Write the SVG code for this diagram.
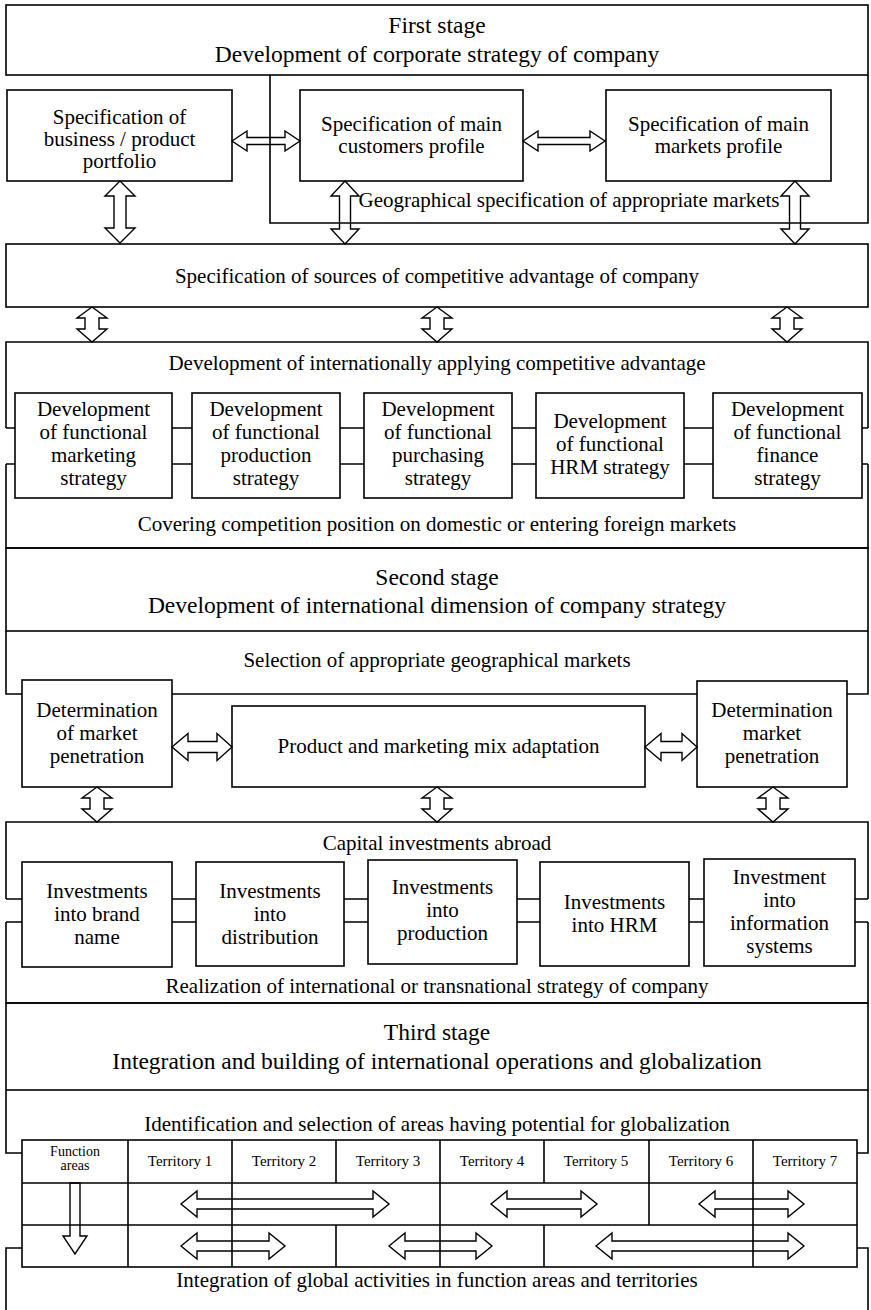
<svg xmlns="http://www.w3.org/2000/svg" width="871" height="1310" viewBox="0 0 871 1310" font-family="'Liberation Serif', 'Times New Roman', serif">
<style>
.ln{fill:none;stroke:#000;stroke-width:1.6}
.ar{fill:none;stroke:#000;stroke-width:1.4;stroke-linejoin:miter}
text{font-family:"Liberation Serif","Times New Roman",serif;font-size:21px;text-anchor:middle;fill:#000}
.big{font-size:23.5px}
.sm{font-size:15px}
.xs{font-size:14px}
</style>
<rect width="871" height="1310" fill="#fff"/>

<g id="stage1">
<rect class="ln" x="6" y="5" width="862" height="70"/>
<path class="ln" d="M868,75 V223 H270 V75"/>
<text class="big" x="437" y="33">First stage</text>
<text class="big" x="437" y="62">Development of corporate strategy of company</text>
<text x="569" y="207">Geographical specification of appropriate markets</text>
</g>
<g id="n-business"><rect class="ln" x="7" y="90" width="225" height="91"/>
<text x="119.5" y="124">Specification of</text><text x="119.5" y="146">business / product</text><text x="119.5" y="168">portfolio</text></g>
<g id="n-customers"><rect class="ln" x="300" y="90" width="223" height="91"/>
<text x="411.5" y="131">Specification of main</text><text x="411.5" y="153">customers profile</text></g>
<g id="n-markets"><rect class="ln" x="606" y="90" width="225" height="91"/>
<text x="718.5" y="131">Specification of main</text><text x="718.5" y="153">markets profile</text></g>

<g id="n-sources"><rect class="ln" x="6" y="244" width="862" height="63"/>
<text x="437" y="283">Specification of sources of competitive advantage of company</text></g>

<g id="n-devadv">
<path class="ln" d="M6,428 V342 H868 V428 M6,464 V548 H868 V464"/>
<path class="ln" d="M6,428 H15 M172,428 H192 M340,428 H364 M512,428 H536 M684,428 H713 M862,428 H868 M6,464 H15 M172,464 H192 M340,464 H364 M512,464 H536 M684,464 H713 M862,464 H868"/>
<text x="437" y="370">Development of internationally applying competitive advantage</text>
<text x="437" y="531">Covering competition position on domestic or entering foreign markets</text>
</g>
<g id="n-fmkt"><rect class="ln" x="15" y="393" width="157" height="105"/>
<text x="93.5" y="416">Development</text><text x="93.5" y="439">of functional</text><text x="93.5" y="462">marketing</text><text x="93.5" y="485">strategy</text></g>
<g id="n-fprod"><rect class="ln" x="192" y="393" width="148" height="105"/>
<text x="266" y="416">Development</text><text x="266" y="439">of functional</text><text x="266" y="462">production</text><text x="266" y="485">strategy</text></g>
<g id="n-fpur"><rect class="ln" x="364" y="393" width="148" height="105"/>
<text x="438" y="416">Development</text><text x="438" y="439">of functional</text><text x="438" y="462">purchasing</text><text x="438" y="485">strategy</text></g>
<g id="n-fhrm"><rect class="ln" x="536" y="393" width="148" height="105"/>
<text x="610" y="428">Development</text><text x="610" y="451">of functional</text><text x="610" y="474">HRM strategy</text></g>
<g id="n-ffin"><rect class="ln" x="713" y="393" width="149" height="105"/>
<text x="787.5" y="416">Development</text><text x="787.5" y="439">of functional</text><text x="787.5" y="462">finance</text><text x="787.5" y="485">strategy</text></g>

<g id="stage2"><rect class="ln" x="6" y="548" width="862" height="83"/>
<text class="big" x="437" y="585">Second stage</text>
<text class="big" x="437" y="613">Development of international dimension of company strategy</text></g>
<g id="n-selection">
<path class="ln" d="M22,694 H6 V631 M868,631 V694 H847 M172,694 H697"/>
<text x="437" y="667">Selection of appropriate geographical markets</text></g>
<g id="n-det1"><rect class="ln" x="22" y="680" width="150" height="107"/>
<text x="97" y="717">Determination</text><text x="97" y="740">of market</text><text x="97" y="763">penetration</text></g>
<g id="n-mix"><rect class="ln" x="232" y="706" width="413" height="81"/>
<text x="438.5" y="753">Product and marketing mix adaptation</text></g>
<g id="n-det2"><rect class="ln" x="697" y="681" width="150" height="106"/>
<text x="772" y="717">Determination</text><text x="772" y="740">market</text><text x="772" y="763">penetration</text></g>

<g id="n-capital">
<path class="ln" d="M6,899 V822 H868 V899 M6,922 V1003 H868 V922"/>
<path class="ln" d="M6,899 H22 M172,899 H196 M344,899 H368 M517,899 H540 M689,899 H704 M855,899 H868 M6,922 H22 M172,922 H196 M344,922 H368 M517,922 H540 M689,922 H704 M855,922 H868"/>
<text x="437" y="850">Capital investments abroad</text>
<text x="437" y="993">Realization of international or transnational strategy of company</text></g>
<g id="n-ibrand"><rect class="ln" x="22" y="862" width="150" height="105"/>
<text x="97" y="898">Investments</text><text x="97" y="921">into brand</text><text x="97" y="944">name</text></g>
<g id="n-idist"><rect class="ln" x="196" y="862" width="148" height="104"/>
<text x="270" y="898">Investments</text><text x="270" y="921">into</text><text x="270" y="944">distribution</text></g>
<g id="n-iprod"><rect class="ln" x="368" y="860" width="149" height="104"/>
<text x="442.5" y="894">Investments</text><text x="442.5" y="917">into</text><text x="442.5" y="940">production</text></g>
<g id="n-ihrm"><rect class="ln" x="540" y="862" width="149" height="104"/>
<text x="614.5" y="909">Investments</text><text x="614.5" y="932">into HRM</text></g>
<g id="n-iinfo"><rect class="ln" x="704" y="859" width="151" height="107"/>
<text x="779.5" y="884">Investment</text><text x="779.5" y="907">into</text><text x="779.5" y="930">information</text><text x="779.5" y="953">systems</text></g>

<g id="stage3"><rect class="ln" x="6" y="1003" width="862" height="87"/>
<text class="big" x="437" y="1040">Third stage</text>
<text class="big" x="437" y="1069">Integration and building of international operations and globalization</text></g>
<g id="n-ident">
<path class="ln" d="M6,1090 V1153 H22 M868,1090 V1153 H857 M22,1248 H6 V1310 M857,1248 H868 V1310"/>
<text x="437" y="1131">Identification and selection of areas having potential for globalization</text>
<text x="437" y="1287">Integration of global activities in function areas and territories</text></g>

<g id="n-table">
<rect class="ln" x="22" y="1140" width="835" height="127"/>
<path class="ln" d="M22,1183 H857 M22,1225 H857 M128,1140 V1267 M232,1140 V1267 M336,1140 V1183 M440,1140 V1225 M544,1140 V1183 M649,1140 V1225 M753,1140 V1267 M336,1225 V1267 M440,1225 V1267 M544,1225 V1267"/>
<text class="xs" x="75" y="1156">Function</text><text class="xs" x="75" y="1170">areas</text>
<text class="sm" x="180" y="1166">Territory 1</text>
<text class="sm" x="284" y="1166">Territory 2</text>
<text class="sm" x="388" y="1166">Territory 3</text>
<text class="sm" x="492" y="1166">Territory 4</text>
<text class="sm" x="596" y="1166">Territory 5</text>
<text class="sm" x="701" y="1166">Territory 6</text>
<text class="sm" x="805" y="1166">Territory 7</text>
</g>

<g id="connectors">
<path class="ar" d="M232,141 L247,131 L247,137.5 L285,137.5 L285,131 L300,141 L285,151 L285,144.5 L247,144.5 L247,151 Z"/>
<path class="ar" d="M523,141 L538,131 L538,137.5 L590,137.5 L590,131 L605,141 L590,151 L590,144.5 L538,144.5 L538,151 Z"/>
<path class="ar" d="M172,747 L188,733.5 L188,741.5 L217,741.5 L217,733.5 L232,747 L217,760.5 L217,752.5 L188,752.5 L188,760.5 Z"/>
<path class="ar" d="M645,747 L661,733.5 L661,741.5 L682,741.5 L682,733.5 L697,747 L682,760.5 L682,752.5 L661,752.5 L661,760.5 Z"/>
<path class="ar" d="M120,181 L135,196 L126,196 L126,228 L135,228 L120,243 L105,228 L114,228 L114,196 L105,196 Z"/>
<path class="ar" d="M345,181 L359,196 L350.5,196 L350.5,229 L359,229 L345,244 L331,229 L339.5,229 L339.5,196 L331,196 Z"/>
<path class="ar" d="M795,181 L809,196 L800.5,196 L800.5,229 L809,229 L795,244 L781,229 L789.5,229 L789.5,196 L781,196 Z"/>
<path class="ar" d="M92,307 L107,318 L99,318 L99,329 L107,329 L92,342 L77,329 L85,329 L85,318 L77,318 Z"/>
<path class="ar" d="M437,307 L452,318 L444,318 L444,329 L452,329 L437,342 L422,329 L430,329 L430,318 L422,318 Z"/>
<path class="ar" d="M787,307 L802,318 L794,318 L794,329 L802,329 L787,342 L772,329 L780,329 L780,318 L772,318 Z"/>
<path class="ar" d="M97,787 L112,798 L104,798 L104,809 L112,809 L97,822 L82,809 L90,809 L90,798 L82,798 Z"/>
<path class="ar" d="M437,787 L452,798 L444,798 L444,809 L452,809 L437,822 L422,809 L430,809 L430,798 L422,798 Z"/>
<path class="ar" d="M773,787 L788,798 L780,798 L780,809 L788,809 L773,822 L758,809 L766,809 L766,798 L758,798 Z"/>
<path class="ar" d="M181,1204 L197,1191 L197,1199 L373,1199 L373,1191 L389,1204 L373,1217 L373,1209 L197,1209 L197,1217 Z"/>
<path class="ar" d="M491,1204 L507,1191 L507,1199 L581,1199 L581,1191 L597,1204 L581,1217 L581,1209 L507,1209 L507,1217 Z"/>
<path class="ar" d="M699,1204 L715,1191 L715,1199 L788,1199 L788,1191 L804,1204 L788,1217 L788,1209 L715,1209 L715,1217 Z"/>
<path class="ar" d="M181,1246 L197,1233 L197,1241 L269,1241 L269,1233 L285,1246 L269,1259 L269,1251 L197,1251 L197,1259 Z"/>
<path class="ar" d="M389,1246 L405,1233 L405,1241 L476,1241 L476,1233 L492,1246 L476,1259 L476,1251 L405,1251 L405,1259 Z"/>
<path class="ar" d="M596,1246 L612,1233 L612,1241 L788,1241 L788,1233 L804,1246 L788,1259 L788,1251 L612,1251 L612,1259 Z"/>
<path class="ar" d="M70,1183 L80,1183 L80,1236 L87,1236 L75,1254 L63,1236 L70,1236 Z"/>
</g>
</svg>
